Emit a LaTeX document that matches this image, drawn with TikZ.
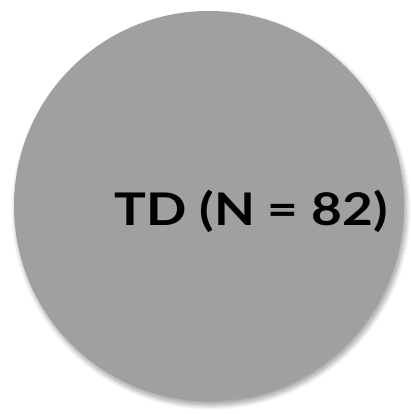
\documentclass[tikz,border=0pt]{standalone}
\usepackage{fontspec}
\setmainfont{Lato}
\usetikzlibrary{shadows.blur}
\definecolor{discgray}{RGB}{160,160,160}
\begin{document}
\begin{tikzpicture}[x=1pt,y=1pt,
  disc/.style={circle, fill=discgray, inner sep=0pt, minimum size=390pt,
    blur shadow={shadow xshift=2pt, shadow yshift=-4pt, shadow blur steps=12, shadow blur radius=5pt}},
  lbl/.style={font=\fontsize{45}{50}\selectfont\bfseries, text=black, inner sep=0pt, anchor=base, xscale=1.18}]
\useasboundingbox (0,0) rectangle (410,-414);
\node[disc] (d) at (209,-206) {};
\node[lbl] (t) at (251,-225) {TD (N = 82)};
\end{tikzpicture}
\end{document}
